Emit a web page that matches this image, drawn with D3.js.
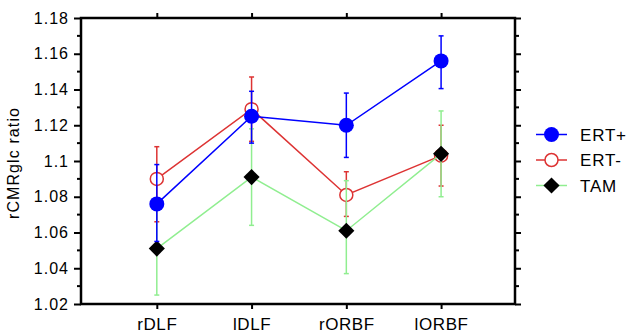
<!DOCTYPE html>
<html>
<head>
<meta charset="utf-8">
<script src="https://cdn.jsdelivr.net/npm/d3@7"></script>
<style>
  body { margin: 0; background: #fff; }
  svg text { font-family: "Liberation Sans", Arial, sans-serif; fill: #000; }
</style>
</head>
<body>
<div id="chart"></div>
<script>
const categories = ["rDLF", "lDLF", "rORBF", "lORBF"];
const yTicks = [1.02, 1.04, 1.06, 1.08, 1.1, 1.12, 1.14, 1.16, 1.18];

const ertPlus = [1.076, 1.125, 1.120, 1.156];
const ertPlusLow = [1.055, 1.110, 1.102, 1.1405];
const ertPlusHigh = [1.098, 1.139, 1.138, 1.170];

const ertMinus = [1.090, 1.129, 1.081, 1.103];
const ertMinusLow = [1.066, 1.111, 1.069, 1.086];
const ertMinusHigh = [1.108, 1.147, 1.094, 1.120];

const tam = [1.051, 1.091, 1.061, 1.104];
const tamLow = [1.025, 1.064, 1.037, 1.080];
const tamHigh = [1.077, 1.118, 1.089, 1.128];

const series = [
    { name: "ERT-", color: "#dd3333", marker: "open", v: ertMinus, lo: ertMinusLow, hi: ertMinusHigh },
    { name: "TAM", color: "#90ee90", marker: "diamond", v: tam, lo: tamLow, hi: tamHigh },
    { name: "ERT+", color: "#0000ff", marker: "filled", v: ertPlus, lo: ertPlusLow, hi: ertPlusHigh }
];
const legendOrder = ["ERT+", "ERT-", "TAM"];

const margin = { top: 18, right: 113, bottom: 29, left: 81 };
const W = 628, H = 333;
const width = W - margin.left - margin.right;
const height = H - margin.top - margin.bottom;

const svg = d3.select("#chart").append("svg")
    .attr("width", W).attr("height", H);
const g = svg.append("g")
    .attr("transform", `translate(${margin.left}, ${margin.top})`);

const x = d3.scaleLinear().domain([-0.8, 3.78]).range([0, width]);
const y = d3.scaleLinear().domain([1.02, 1.18]).range([height, 0]);
const minor = d3.range(1.03, 1.18, 0.02);

// axes
const leftAxis = g.append("g").call(d3.axisLeft(y).tickValues(yTicks).tickFormat(d3.format("")).tickSize(7).tickPadding(5));
leftAxis.append("g").selectAll("line").data(minor).join("line")
    .attr("x1", -4).attr("x2", 0).attr("y1", d => y(d)).attr("y2", d => y(d)).attr("stroke", "#000").attr("stroke-width", 2);
const rightAxis = g.append("g").attr("transform", `translate(${width},0)`)
    .call(d3.axisRight(y).tickValues(yTicks).tickFormat("").tickSize(6));
rightAxis.append("g").selectAll("line").data(minor).join("line")
    .attr("x1", 0).attr("x2", 4).attr("y1", d => y(d)).attr("y2", d => y(d)).attr("stroke", "#000").attr("stroke-width", 2);
const bottomAxis = g.append("g").attr("transform", `translate(0,${height})`)
    .call(d3.axisBottom(x).tickValues(d3.range(categories.length)).tickFormat(i => categories[i]).tickSize(5).tickPadding(9));
const topAxis = g.append("g").call(d3.axisTop(x).tickValues(d3.range(categories.length)).tickFormat("").tickSize(5));

[leftAxis, rightAxis, bottomAxis, topAxis].forEach(a => {
    a.select(".domain").remove();
    a.selectAll(".tick line").attr("stroke-width", 2);
    a.selectAll("text").style("font-size", "16px").style("letter-spacing", "1px")
        .style("font-family", "Liberation Sans, Arial, sans-serif");
});
bottomAxis.selectAll("text").style("font-size", "17px").style("letter-spacing", "0.6px");
g.append("rect").attr("width", width).attr("height", height)
    .attr("fill", "none").attr("stroke", "#000").attr("stroke-width", 2.5);

g.append("text")
    .attr("transform", "rotate(-90)")
    .attr("x", -145).attr("y", -62)
    .attr("text-anchor", "middle")
    .style("font-size", "16px")
    .style("letter-spacing", "1.1px")
    .text("rCMRglc ratio");

const line = d3.line().x((d, i) => x(i)).y(d => y(d));

function drawMarker(sel, s, cx, cy) {
    if (s.marker === "filled") {
        sel.append("circle").attr("cx", cx).attr("cy", cy).attr("r", 7.5).attr("fill", s.color);
    } else if (s.marker === "open") {
        sel.append("circle").attr("cx", cx).attr("cy", cy).attr("r", 6.5)
            .attr("fill", "#fff").attr("stroke", s.color).attr("stroke-width", 1.5);
    } else {
        sel.append("path").attr("d", d3.symbol(d3.symbolSquare, 130)())
            .attr("transform", `translate(${cx},${cy}) rotate(45)`).attr("fill", "#000");
    }
}

series.forEach(s => {
    const sg = g.append("g");
    s.v.forEach((v, i) => {
        sg.append("line").attr("x1", x(i)).attr("x2", x(i)).attr("y1", y(s.lo[i])).attr("y2", y(s.hi[i]))
            .attr("stroke", s.color).attr("stroke-width", 1.5);
        [s.lo[i], s.hi[i]].forEach(e => sg.append("line")
            .attr("x1", x(i) - 2.5).attr("x2", x(i) + 2.5).attr("y1", y(e)).attr("y2", y(e))
            .attr("stroke", s.color).attr("stroke-width", 1.5));
    });
    sg.append("path").datum(s.v).attr("d", line).attr("fill", "none")
        .attr("stroke", s.color).attr("stroke-width", 1.5);
    s.v.forEach((v, i) => drawMarker(sg, s, x(i), y(v)));
});

// legend
const legend = svg.append("g").attr("transform", "translate(536,134.5)");
legendOrder.forEach((name, k) => {
    const s = series.find(d => d.name === name);
    const lg = legend.append("g").attr("transform", `translate(0,${k * 25.5})`);
    lg.append("line").attr("x1", 0).attr("x2", 31).attr("stroke", s.color).attr("stroke-width", 1.5);
    drawMarker(lg, s, 15.5, 0);
    lg.append("text").attr("x", 44).attr("y", 6).style("font-size", "17px")
        .style("letter-spacing", "0.8px").text(name);
});
</script>
</body>
</html>
